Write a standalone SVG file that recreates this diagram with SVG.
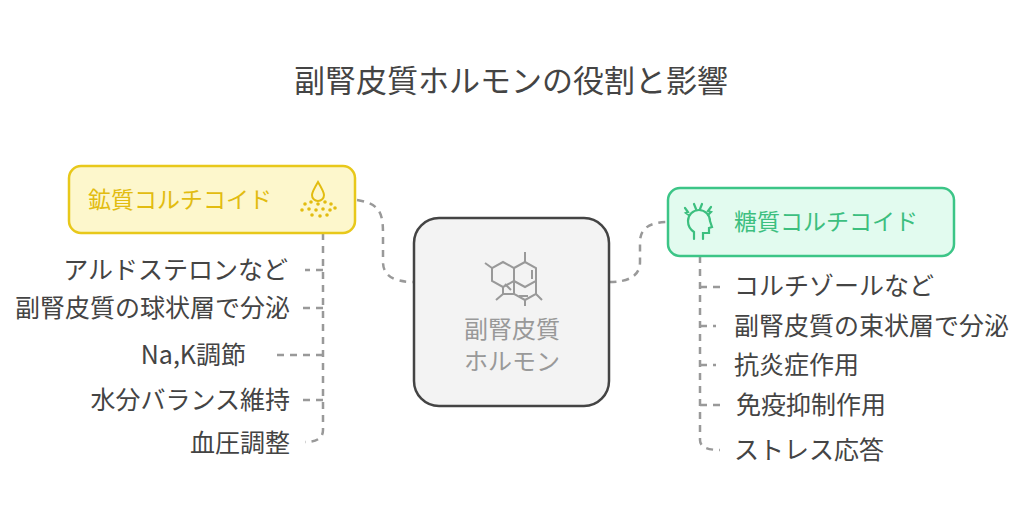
<svg xmlns="http://www.w3.org/2000/svg" width="1030" height="520" viewBox="0 0 1030 520">
<style>
text{font-family:"Noto Sans CJK JP","Noto Sans",sans-serif;font-size:25px}
.t{fill:#444}
.c{fill:none;stroke:#999;stroke-width:2.5;stroke-dasharray:7 6}
</style>
<rect width="1030" height="520" fill="#fff"/>
<text x="511" y="92" text-anchor="middle" class="t" style="font-size:31px">副腎皮質ホルモンの役割と影響</text>
<g id="connectors">
<path class="c" d="M357,200 C384,204 383,218 383,240 L383,262 Q383,282 414,282"/>
<path class="c" d="M609,282 Q640,282 640,262 L640,242 Q640,222 668,222"/>
<path class="c" d="M323,233 V430 Q323,442 305,442"/>
<path class="c" d="M323,270 H305 M323,308 H300 M323,355 H275 M323,400 H300"/>
<path class="c" d="M700,256 V440 Q700,450 720,450"/>
<path class="c" d="M700,287 H722 M700,326 H716 M700,365 H716 M700,405 H722"/>
</g>
<g id="mineral">
<rect x="69" y="166" width="286" height="67" rx="12" fill="#fdf7cc" stroke="#e8c81a" stroke-width="2.5"/>
<text x="88" y="208" fill="#e2bc10" style="font-size:23px">鉱質コルチコイド</text>
<g fill="#e2bc10">
<path d="M318,182 Q312,192 312,195 A6,6 0 0 0 324,195 Q324,192 318,182 Z" fill="none" stroke="#e2bc10" stroke-width="2"/>
<circle cx="305" cy="204" r="1.8"/><circle cx="311" cy="202" r="1.8"/><circle cx="318" cy="204" r="1.8"/><circle cx="325" cy="202" r="1.8"/><circle cx="331" cy="204" r="1.8"/>
<circle cx="302" cy="210" r="1.8"/><circle cx="309" cy="209" r="1.8"/><circle cx="316" cy="210" r="1.8"/><circle cx="323" cy="209" r="1.8"/><circle cx="330" cy="210" r="1.8"/><circle cx="335" cy="208" r="1.8"/>
<circle cx="312" cy="215" r="1.8"/><circle cx="320" cy="216" r="1.8"/><circle cx="327" cy="215" r="1.8"/>
</g>
</g>
<g id="center">
<rect x="414" y="218" width="195" height="188" rx="25" fill="#f3f3f3" stroke="#444" stroke-width="2.5"/>
<g fill="none" stroke="#999" stroke-width="2">
<path d="M503,262 L514,268 L514,281 L503,287 L492,281 L492,268 Z"/>
<path d="M514,268 L525,262 L536,268 L536,281 L525,287 L514,281"/>
<path d="M514,281 L514,294 L525,300 L536,294 L536,281"/>
<path d="M492,268 L485,263 M525,262 L525,252 M503,287 L503,294 L496,300 M525,300 L525,306 M536,294 L542,300 M514,294 L503,294"/>
<path d="M532,270 L532,279 M505,284 L511,290 M519,296 L528,296"/>
</g>
<text x="512" y="338" text-anchor="middle" fill="#999" style="font-size:24px">副腎皮質</text>
<text x="512" y="370" text-anchor="middle" fill="#999" style="font-size:24px">ホルモン</text>
</g>
<g id="gluco">
<rect x="668" y="188" width="286" height="68" rx="12" fill="#e2fbef" stroke="#3cc587" stroke-width="2.5"/>
<text x="734" y="230" fill="#3cbf7f" style="font-size:23px">糖質コルチコイド</text>
<g fill="none" stroke="#3cbf7f" stroke-width="2.2" stroke-linecap="round">
<path d="M694,239 L694,232 Q688,228 688,221 A11,11 0 0 1 710,221 L712,227 L709,228 L709,233 L703,233 L703,239"/>
<path d="M685,208 L688,212 L686,213 L689,215 M694,204 L696,209 M702,204 L700,209 M711,207 L708,211 L711,212 L708,215"/>
</g>
</g>
<g id="items-left">
<text x="288" y="279" text-anchor="end" class="t">アルドステロンなど</text>
<text x="290" y="317" text-anchor="end" class="t">副腎皮質の球状層で分泌</text>
<text x="246" y="364" text-anchor="end" class="t">Na,K調節</text>
<text x="290" y="409" text-anchor="end" class="t">水分バランス維持</text>
<text x="290" y="452" text-anchor="end" class="t">血圧調整</text>
</g>
<g id="items-right">
<text x="734" y="295" class="t">コルチゾールなど</text>
<text x="734" y="335" class="t">副腎皮質の束状層で分泌</text>
<text x="734" y="374" class="t">抗炎症作用</text>
<text x="736" y="414" class="t">免疫抑制作用</text>
<text x="734" y="459" class="t">ストレス応答</text>
</g>
</svg>
